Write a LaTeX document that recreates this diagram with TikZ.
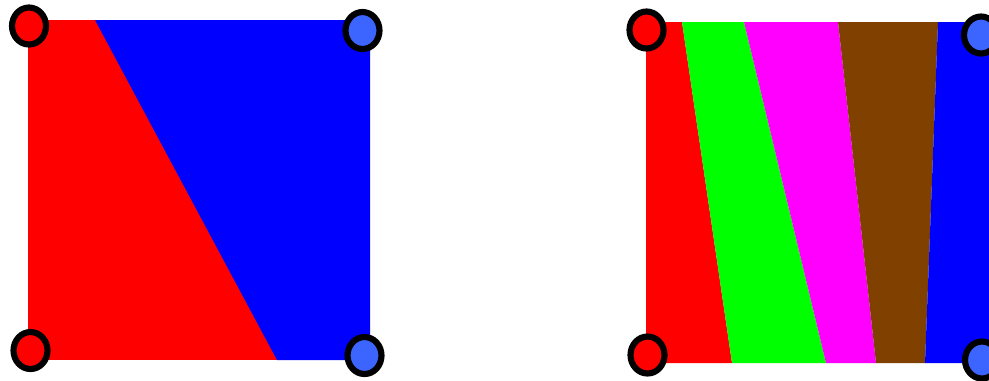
\documentclass[tikz,border=0pt]{standalone}
\usetikzlibrary{shapes.geometric}
\definecolor{cornerblue}{RGB}{60,100,255}
\definecolor{stripebrown}{RGB}{128,64,0}
\definecolor{stripemagenta}{RGB}{255,0,255}
\definecolor{stripegreen}{RGB}{0,255,0}
\begin{document}
\begin{tikzpicture}[x=0.02cm,y=-0.02cm,
  corner/.style={ellipse,draw=black,line width=3.5pt,inner sep=0pt,
    minimum width=0.68cm,minimum height=0.74cm},
  redcorner/.style={corner,fill=red},
  bluecorner/.style={corner,fill=cornerblue}]
\useasboundingbox (0,0) rectangle (989,380);
% left square: two regions
\fill[red] (28,20) rectangle (370,360);
\fill[blue] (95,20) -- (370,20) -- (370,360) -- (277,360) -- cycle;
% right square: five stripes
\fill[red] (646,22) -- (682,22) -- (732,363) -- (646,363) -- cycle;
\fill[stripegreen] (682,22) -- (744,22) -- (826,363) -- (732,363) -- cycle;
\fill[stripemagenta] (744,22) -- (838,22) -- (876,363) -- (826,363) -- cycle;
\fill[stripebrown] (838,22) -- (938,22) -- (925,363) -- (876,363) -- cycle;
\fill[blue] (938,22) -- (995,22) -- (995,363) -- (925,363) -- cycle;
% corners
\node[redcorner] (ltl) at (29,26) {};
\node[bluecorner] (ltr) at (362.5,30.5) {};
\node[redcorner] (lbl) at (30.5,350.5) {};
\node[bluecorner] (lbr) at (364.5,355.5) {};
\node[redcorner] (rtl) at (646.5,30) {};
\node[bluecorner] (rtr) at (981,35) {};
\node[redcorner] (rbl) at (647.5,355) {};
\node[bluecorner] (rbr) at (982,360) {};
\end{tikzpicture}
\end{document}
